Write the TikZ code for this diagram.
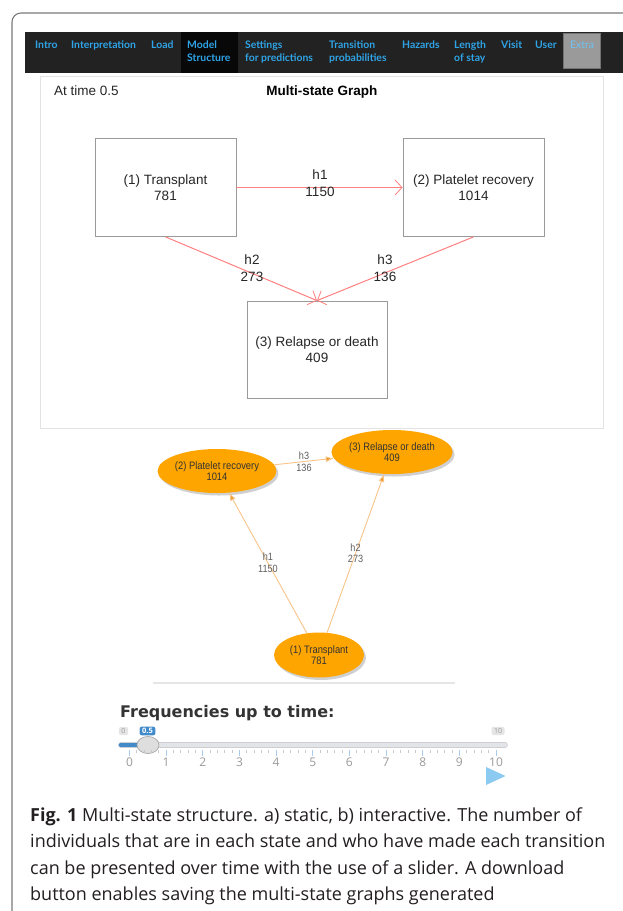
\documentclass[tikz,border=0pt]{standalone}
\usepackage{fontspec}
\setmainfont{Open Sans}
\newfontfamily\arialfont{Liberation Sans}
\newfontfamily\narrowfont[FakeStretch=0.87]{Liberation Sans}
\newfontfamily\navfont{Lato}
\newfontfamily\headfont{DejaVu Sans}
\usetikzlibrary{arrows.meta,shapes.geometric,shadows}

\definecolor{framegray}{HTML}{7A7A7A}
\definecolor{navbg}{HTML}{222222}
\definecolor{navactive}{HTML}{080808}
\definecolor{navblue}{HTML}{2FA4E7}
\definecolor{extrabg}{HTML}{9A9A9A}
\definecolor{extrablue}{HTML}{6FC3F2}
\definecolor{panelline}{HTML}{E3E3E3}
\definecolor{boxline}{HTML}{9A9A9A}
\definecolor{stext}{HTML}{262626}
\definecolor{sred}{HTML}{FF8080}
\definecolor{bubble}{HTML}{FFA500}
\definecolor{bubbletext}{HTML}{333333}
\definecolor{iedge}{HTML}{F8C48A}
\definecolor{itip}{HTML}{E89A20}
\definecolor{ilabel}{HTML}{5E5E5E}
\definecolor{sepline}{HTML}{E6E6E6}
\definecolor{freqtext}{HTML}{333333}
\definecolor{tracklight}{HTML}{E2E4E8}
\definecolor{trackedge}{HTML}{CDCFD3}
\definecolor{sliderblue}{HTML}{428BCA}
\definecolor{tickblue}{HTML}{A9CBEE}
\definecolor{tickgray}{HTML}{C8C8C8}
\definecolor{numgray}{HTML}{9A9A9A}
\definecolor{playblue}{HTML}{8CCAF2}
\definecolor{captext}{HTML}{231F20}

\tikzset{
  navtext/.style={anchor=base west, inner sep=0pt, text=navblue,
    font=\navfont\bfseries\fontsize{10.4}{13}\selectfont},
  sbox/.style={draw=boxline, line width=0.8pt, fill=white, inner sep=0pt,
    minimum width=141pt, minimum height=98pt, align=center, text=stext,
    font=\arialfont\fontsize{13.5}{15.5}\selectfont},
  slabel/.style={inner sep=0pt, align=center, text=stext,
    font=\arialfont\fontsize{13.5}{17}\selectfont},
  sedge/.style={draw=sred, line width=1pt,
    -{Straight Barb[length=7pt,width=15pt,line width=0.8pt]}},
  ibubble/.style={ellipse, fill=bubble, inner sep=0pt, align=center,
    text=bubbletext, font=\narrowfont\fontsize{10.8}{11.5}\selectfont,
    drop shadow={shadow xshift=2pt, shadow yshift=-2.5pt, opacity=0.3, fill=black!60}},
  iedgestyle/.style={draw=iedge, line width=0.9pt,
    -{Latex[length=8pt,width=6pt,fill=itip]}},
  ilabeltext/.style={inner sep=0pt, align=center, text=ilabel,
    font=\narrowfont\fontsize{10.5}{11.5}\selectfont},
  graylbl/.style={fill=black!10, text=numgray, rounded corners=2pt, inner xsep=2.5pt,
    inner ysep=1.5pt, font=\fontsize{7}{8}\selectfont},
  ticknum/.style={text=numgray, inner sep=0pt, font=\fontsize{12}{12}\selectfont},
  captionline/.style={anchor=base west, inner sep=0pt, text=captext,
    font=\fontsize{18}{20}\selectfont},
}

\begin{document}
\begin{tikzpicture}[x=1pt,y=-1pt]
\useasboundingbox (0,0) rectangle (623,911);
\fill[white] (0,0) rectangle (623,911);

% outer frame with rounded top-left corner
\draw[framegray, line width=1.1pt, rounded corners=9pt] (12,930) -- (12,13) -- (640,13);

% navigation bar
\fill[navbg] (25,32) rectangle (623,73);
\fill[navactive] (181,32) rectangle (238,73);
\fill[extrabg] (563,33) rectangle (600,68);
\draw[black!55, line width=0.6pt] (563,33) rectangle (600,68);
\node[navtext] (navintro) at (35,48) {Intro};
\node[navtext] (navinterp) at (71,48) {Interpretation};
\node[navtext] (navload) at (151,48) {Load};
\node[navtext] (navmodel) at (187,48) {Model};
\node[navtext] (navmodelb) at (187,61) {Structure};
\node[navtext] (navsettings) at (245,48) {Settings};
\node[navtext] (navsettingsb) at (245,61) {for predictions};
\node[navtext] (navtrans) at (329,48) {Transition};
\node[navtext] (navtransb) at (329,61) {probabilities};
\node[navtext] (navhaz) at (402,48) {Hazards};
\node[navtext] (navlos) at (454,48) {Length};
\node[navtext] (navlosb) at (454,61) {of stay};
\node[navtext] (navvisit) at (501,48) {Visit};
\node[navtext] (navuser) at (535,48) {User};
\node[navtext, text=extrablue, font=\navfont\fontsize{10.4}{13}\selectfont] (navextra) at (570,48) {Extra};

% static multi-state graph panel
\draw[panelline, line width=0.8pt, fill=white] (40,76) rectangle (603,428);
\node[anchor=base west, inner sep=0pt, text=stext, font=\arialfont\fontsize{13.5}{15}\selectfont]
  (timelbl) at (54,95) {At time 0.5};
\node[anchor=base, inner sep=0pt, text=black, font=\arialfont\bfseries\fontsize{13.5}{15}\selectfont]
  (graphtitle) at (322,95) {Multi-state Graph};

\node[sbox] (s1) at (165.5,187.5) {(1) Transplant\\781};
\node[sbox] (s2) at (473.5,187.5) {(2) Platelet recovery\\1014};
\node[sbox, minimum width=140pt, minimum height=97pt] (s3) at (317,349.5) {(3) Relapse or death\\409};

\draw[sedge] (s1.east) -- (s2.west);
\draw[sedge] (s1.south) -- (s3.north);
\draw[sedge] (s2.south) -- (s3.north);
\node[slabel] (sh1) at (320,183.5) {h1\\1150};
\node[slabel] (sh2) at (252,268.5) {h2\\273};
\node[slabel] (sh3) at (385,268.5) {h3\\136};

% interactive network
\node[ibubble, minimum width=112pt, minimum height=44pt] (i2) at (217,471) {(2) Platelet recovery\\1014};
\node[ibubble, minimum width=115pt, minimum height=44pt] (i3) at (392,452) {(3) Relapse or death\\409};
\node[ibubble, minimum width=90pt, minimum height=45pt] (i1) at (319,655) {(1) Transplant\\781};

\draw[iedgestyle] (i1) -- node[ilabeltext] {h1\\1150} (i2);
\draw[iedgestyle] (i1) -- node[ilabeltext] {h2\\273} (i3);
\draw[iedgestyle] (i2) -- node[ilabeltext] {h3\\136} (i3);

\draw[sepline, line width=1.5pt] (153,683) -- (455,683);

% time slider
\node[anchor=base west, inner sep=0pt, text=freqtext, font=\headfont\bfseries\fontsize{16}{18}\selectfont]
  (freq) at (120,717) {Frequencies up to time:};
\node[graylbl] (minlbl) at (123.5,731) {0};
\node[graylbl] (maxlbl) at (498,731) {10};
\node[graylbl, fill=sliderblue, text=white, font=\bfseries\fontsize{7.5}{8}\selectfont] (vallbl) at (147.5,731) {0.5};

\draw[trackedge, line width=5.6pt, line cap=round] (121,745) -- (505,745);
\draw[tracklight, line width=4.2pt, line cap=round] (121,745) -- (505,745);
\draw[sliderblue, line width=4.6pt, line cap=round] (121,745) -- (148,745);
\node[ellipse, fill=black!13, draw=black!35, line width=0.7pt, minimum width=22pt, minimum height=17pt,
  inner sep=0pt] (handle) at (148,745) {};

\foreach \k in {0,...,10} {
  \draw[tickblue, line width=0.9pt] (129.5+36.65*\k,750) -- (129.5+36.65*\k,756);
  \node[ticknum] at (129.5+36.65*\k,762) {\k};
}
\foreach \k in {0,...,9} {
  \foreach \m in {1,...,4} {
    \draw[tickgray, line width=0.7pt] (129.5+36.65*\k+7.33*\m,750) -- (129.5+36.65*\k+7.33*\m,753);
  }
}
\fill[playblue] (486,767) -- (505.5,776) -- (486,785) -- cycle;

% caption
\node[captionline] (cap1) at (30,821) {\textbf{Fig. 1} Multi-state structure. a) static, b) interactive. The number of};
\node[captionline] (cap2) at (30,847.5) {individuals that are in each state and who have made each transition};
\node[captionline] (cap3) at (30,874) {can be presented over time with the use of a slider. A download};
\node[captionline] (cap4) at (30,900.5) {button enables saving the multi-state graphs generated};
\end{tikzpicture}
\end{document}
